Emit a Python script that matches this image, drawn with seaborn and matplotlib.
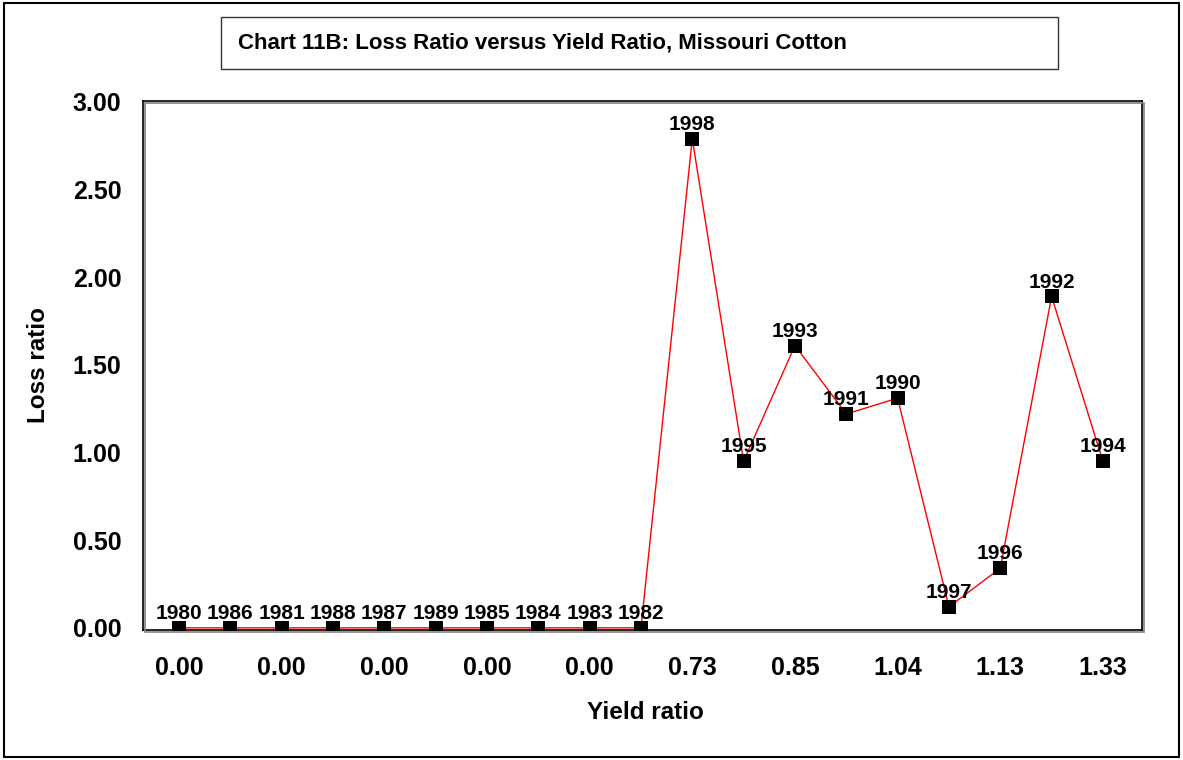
import numpy as np
import matplotlib
matplotlib.use("Agg")
import matplotlib.pyplot as plt
from matplotlib.patches import Rectangle
import seaborn as sns

# data (sorted by yield ratio, as on the x axis)
years = [1980, 1986, 1981, 1988, 1987, 1989, 1985, 1984, 1983, 1982,
         1998, 1995, 1993, 1991, 1990, 1997, 1996, 1992, 1994]
yield_ratio = [0.00, 0.00, 0.00, 0.00, 0.00, 0.00, 0.00, 0.00, 0.00, 0.00,
               0.73, 0.80, 0.85, 0.97, 1.04, 1.08, 1.13, 1.20, 1.33]
loss_ratio = [0.0, 0.0, 0.0, 0.0, 0.0, 0.0, 0.0, 0.0, 0.0, 0.0,
              2.79, 0.95, 1.61, 1.22, 1.31, 0.12, 0.34, 1.89, 0.95]
y_ticks = [0.0, 0.5, 1.0, 1.5, 2.0, 2.5, 3.0]

title = "Chart 11B: Loss Ratio versus Yield Ratio, Missouri Cotton"

sns.set_style("white")
plt.rcParams['font.family'] = ['Liberation Sans', 'DejaVu Sans']
plt.rcParams['font.weight'] = 'bold'
plt.rcParams['text.color'] = 'black'
plt.rcParams['axes.labelcolor'] = 'black'
plt.rcParams['xtick.color'] = 'black'
plt.rcParams['ytick.color'] = 'black'

fig = plt.figure(figsize=(11.83, 7.6), dpi=100)
ax = fig.add_axes([0.1209, 0.1711, 0.8444, 0.6960])

pos = np.arange(len(years))
sns.lineplot(x=pos, y=loss_ratio, color='red', linewidth=1, ax=ax, zorder=2)
sns.scatterplot(x=pos, y=loss_ratio, marker='s', color='black', s=110,
                edgecolor='black', linewidth=0, ax=ax, zorder=3)

for x, y, yr in zip(pos, loss_ratio, years):
    ax.annotate(str(yr), (x, y), xytext=(0, 3.5), textcoords='offset points',
                ha='center', va='bottom', fontsize=15, fontweight='bold')

ax.set_xlim(-0.70, 18.76)
ax.set_ylim(-0.012, 3.005)
ax.set_xticks(pos[::2])
ax.set_xticklabels([f"{v:.2f}" for v in yield_ratio[::2]], fontsize=18, fontweight='bold')
ax.set_yticks(y_ticks)
ax.set_yticklabels([f"{v:.2f}" for v in y_ticks], fontsize=18, fontweight='bold')
ax.tick_params(axis='x', length=0, pad=19)
ax.tick_params(axis='y', length=0, pad=15.5)

ax.set_xlabel("Yield ratio", fontsize=17.5, fontweight='bold')
ax.xaxis.set_label_coords(0.5025, -0.135)
ax.set_ylabel("Loss ratio", fontsize=17.5, fontweight='bold')
ax.yaxis.set_label_coords(-0.093, 0.5)

for s in ax.spines.values():
    s.set_color('black')
    s.set_linewidth(1.2)
    s.set_visible(True)

# gray drop shadow behind the plot frame
fig.patches.append(Rectangle((0.1209 + 0.002, 0.1711 - 0.003), 0.8444, 0.6960,
                             transform=fig.transFigure, facecolor='none',
                             edgecolor='gray', linewidth=1.2, zorder=0))

# title box
fig.patches.append(Rectangle((0.1868, 0.9092), 0.7075, 0.0684, transform=fig.transFigure,
                             facecolor='white', edgecolor='#333333', linewidth=1))
fig.text(0.2012, 0.9434, title, ha='left', va='center', fontsize=16, fontweight='bold')

# outer frame
fig.patches.append(Rectangle((0.003, 0.004), 0.994, 0.992, transform=fig.transFigure,
                             facecolor='none', edgecolor='black', linewidth=1.5))

fig.savefig("out.png", dpi=100)
